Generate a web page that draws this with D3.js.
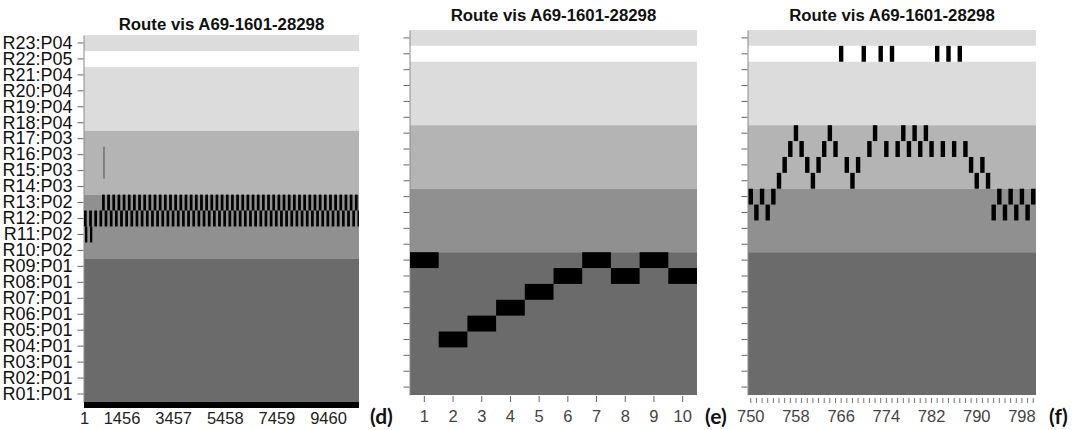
<!DOCTYPE html>
<html>
<head>
<meta charset="utf-8">
<script src="https://cdn.jsdelivr.net/npm/d3@7"></script>
<style>
  body { margin: 0; background: #fff; }
  svg { display: block; font-family: "Liberation Sans", Arial, sans-serif; }
</style>
</head>
<body>
<svg id="chart" width="1079" height="430"></svg>
<script>
// row labels, top to bottom
var rows = ["R23:P04","R22:P05","R21:P04","R20:P04","R19:P04","R18:P04",
            "R17:P03","R16:P03","R15:P03","R14:P03",
            "R13:P02","R12:P02","R11:P02","R10:P02",
            "R09:P01","R08:P01","R07:P01","R06:P01","R05:P01","R04:P01","R03:P01","R02:P01","R01:P01"];

var title = "Route vis A69-1601-28298";

// (d) whole route, visits drawn as [start step, end step]
var leftTicks = [1, 1456, 3457, 5458, 7459, 9460];
var leftMaxStep = 10660;
var leftR11 = [[40, 130], [233, 322]];
var leftR12Starts = [1,201,401,601,801,1001,1201,1401,1601,1801,2001,2201,2401,2601,2801,3001,3201,3401,
  3601,3801,4001,4201,4401,4601,4801,5001,5201,5401,5601,5801,6001,6201,6401,6601,6801,7001,7201,7401,
  7601,7801,8001,8201,8401,8601,8801,9001,9201,9401,9601,9801,10001,10201,10401,10601];
var leftR13Starts = [701,901,1101,1301,1501,1701,1901,2101,2301,2501,2701,2901,3101,3301,3501,3701,3901,
  4101,4301,4501,4701,4901,5101,5301,5501,5701,5901,6101,6301,6501,6701,6901,7101,7301,7501,7701,7901,
  8101,8301,8501,8701,8901,9101,9301,9501,9701,9901,10101,10301,10501];
var leftVisitLen = 105;
var leftWindow = [750, 800];          // thin trace in R16..R15

// (e) first ten steps
var midSteps = [1,2,3,4,5,6,7,8,9,10];
var midRows = ["R09:P01","R04:P01","R05:P01","R06:P01","R07:P01","R08:P01","R09:P01","R08:P01","R09:P01","R08:P01"];

// (f) steps 750..800, room number at each step
var rightSteps = [750,751,752,753,754,755,756,757,758,759,760,761,762,763,764,765,766,767,768,769,770,
  771,772,773,774,775,776,777,778,779,780,781,782,783,784,785,786,787,788,789,790,791,792,793,794,795,
  796,797,798,799,800];
var rightRoom = [13,12,13,12,13,14,15,16,17,16,15,14,15,16,17,16,22,15,14,15,22,16,17,22,16,22,16,17,
  16,17,16,17,16,22,16,22,16,22,16,15,14,15,14,12,13,12,13,12,13,12,13];
var rightLabels = [750,758,766,774,782,790,798];

var zoneFill = { P05: "#ffffff", P04: "#dcdcdc", P03: "#b4b4b4", P02: "#909090", P01: "#6b6b6b" };

var svg = d3.select("#chart");
svg.append("rect").attr("width", 1079).attr("height", 430).attr("fill", "#fff");

function roomLabel(n) {
  var key = "R" + (n < 10 ? "0" + n : n) + ":";
  return rows.filter(function (r) { return r.indexOf(key) === 0; })[0];
}

function drawPanel(opt) {
  var g = svg.append("g");
  var y = d3.scaleBand().domain(rows).range([opt.y0, opt.y1]).padding(0);

  // background zones, one rect per run of the same P code
  var runs = [];
  rows.forEach(function (r) {
    var p = r.split(":")[1];
    if (runs.length && runs[runs.length - 1].p === p) runs[runs.length - 1].last = r;
    else runs.push({ p: p, first: r, last: r });
  });
  g.selectAll("rect.zone").data(runs).enter().append("rect")
    .attr("class", "zone")
    .attr("x", opt.x0).attr("width", opt.x1 - opt.x0)
    .attr("y", function (d) { return y(d.first); })
    .attr("height", function (d) { return y(d.last) + y.bandwidth() - y(d.first); })
    .attr("fill", function (d) { return zoneFill[d.p]; });

  var yAxis = d3.axisLeft(y).tickSizeInner(6).tickSizeOuter(0).tickPadding(5);
  if (!opt.yLabels) yAxis.tickFormat("");
  var ya = g.append("g").attr("transform", "translate(" + (opt.x0 - 0.5) + ",0)").call(yAxis);
  ya.select(".domain").attr("stroke", "#8a8a8a");
  ya.selectAll(".tick line").attr("stroke", "#666");
  ya.selectAll("text").attr("fill", "#111").style("font-size", "18px");

  g.append("text")
    .attr("x", (opt.x0 + opt.x1) / 2).attr("y", opt.titleY)
    .attr("text-anchor", "middle")
    .style("font-size", "16.8px").style("font-weight", "bold").attr("fill", "#111")
    .text(title);

  return { g: g, y: y };
}

// ---- (d)
var pd = drawPanel({ x0: 84, x1: 359, y0: 35, y1: 402, titleY: 30, yLabels: true });
var xd = d3.scaleLinear().domain([1, leftMaxStep]).range([84, 359]);

function visits(starts, len) {
  return starts.map(function (s) { return [s, Math.min(s + len, leftMaxStep)]; });
}
[["R11:P02", leftR11], ["R12:P02", visits(leftR12Starts, leftVisitLen)], ["R13:P02", visits(leftR13Starts, leftVisitLen)]]
  .forEach(function (set) {
    pd.g.selectAll(null).data(set[1]).enter().append("rect")
      .attr("x", function (d) { return xd(d[0]); })
      .attr("width", function (d) { return xd(d[1]) - xd(d[0]); })
      .attr("y", pd.y(set[0])).attr("height", pd.y.bandwidth())
      .attr("fill", "#000");
  });
pd.g.append("rect")
  .attr("x", xd(leftWindow[0])).attr("width", xd(leftWindow[1]) - xd(leftWindow[0]))
  .attr("y", pd.y("R16:P03")).attr("height", pd.y.bandwidth() * 2)
  .attr("fill", "#666");
pd.g.append("rect")
  .attr("x", xd(1)).attr("width", xd(leftMaxStep) - xd(1))
  .attr("y", 402).attr("height", 6).attr("fill", "#000");
var xa = pd.g.append("g").attr("transform", "translate(0,408)")
  .call(d3.axisBottom(xd).tickValues(leftTicks).tickSize(0).tickPadding(4).tickFormat(d3.format("d")));
xa.select(".domain").remove();
xa.selectAll("text").attr("fill", "#222").style("font-size", "16.5px");

// ---- (e)
var pe = drawPanel({ x0: 410, x1: 697, y0: 30, y1: 395, titleY: 21, yLabels: false });
var xe = d3.scaleBand().domain(midSteps).range([410, 697]);
pe.g.selectAll("rect.step").data(midSteps).enter().append("rect")
  .attr("class", "step")
  .attr("x", function (d) { return xe(d); }).attr("width", xe.bandwidth())
  .attr("y", function (d, i) { return pe.y(midRows[i]); }).attr("height", pe.y.bandwidth())
  .attr("fill", "#000");
var xea = pe.g.append("g").attr("transform", "translate(0,396)")
  .call(d3.axisBottom(xe).tickSizeInner(6).tickSizeOuter(0).tickPadding(8));
xea.select(".domain").remove();
xea.selectAll(".tick line").attr("stroke", "#666");
xea.selectAll("text").attr("fill", "#444").style("font-size", "16.5px");

// ---- (f)
var pf = drawPanel({ x0: 748, x1: 1036, y0: 30, y1: 395, titleY: 21, yLabels: false });
var xf = d3.scaleBand().domain(rightSteps).range([748, 1036]).paddingInner(0.22).paddingOuter(0.1);
pf.g.selectAll("rect.step").data(rightSteps).enter().append("rect")
  .attr("class", "step")
  .attr("x", function (d) { return xf(d); }).attr("width", xf.bandwidth())
  .attr("y", function (d, i) { return pf.y(roomLabel(rightRoom[i])); }).attr("height", pf.y.bandwidth())
  .attr("fill", "#000");
var xfa = pf.g.append("g").attr("transform", "translate(0,398)")
  .call(d3.axisBottom(xf).tickSizeInner(5).tickSizeOuter(0).tickPadding(7)
    .tickFormat(function (d) { return rightLabels.indexOf(d) >= 0 ? d : ""; }));
xfa.select(".domain").remove();
xfa.selectAll(".tick line").attr("stroke", "#777");
xfa.selectAll("text").attr("fill", "#444").style("font-size", "16.5px");

// panel letters
var letters = [["(d)", 370], ["(e)", 705], ["(f)", 1049]];
svg.selectAll("text.letter").data(letters).enter().append("text")
  .attr("class", "letter")
  .attr("x", function (d) { return d[1]; }).attr("y", 424)
  .style("font-family", "Lato, 'Open Sans', sans-serif")
  .style("font-size", "21px").style("font-weight", "bold").attr("fill", "#111")
  .text(function (d) { return d[0]; });
</script>
</body>
</html>
